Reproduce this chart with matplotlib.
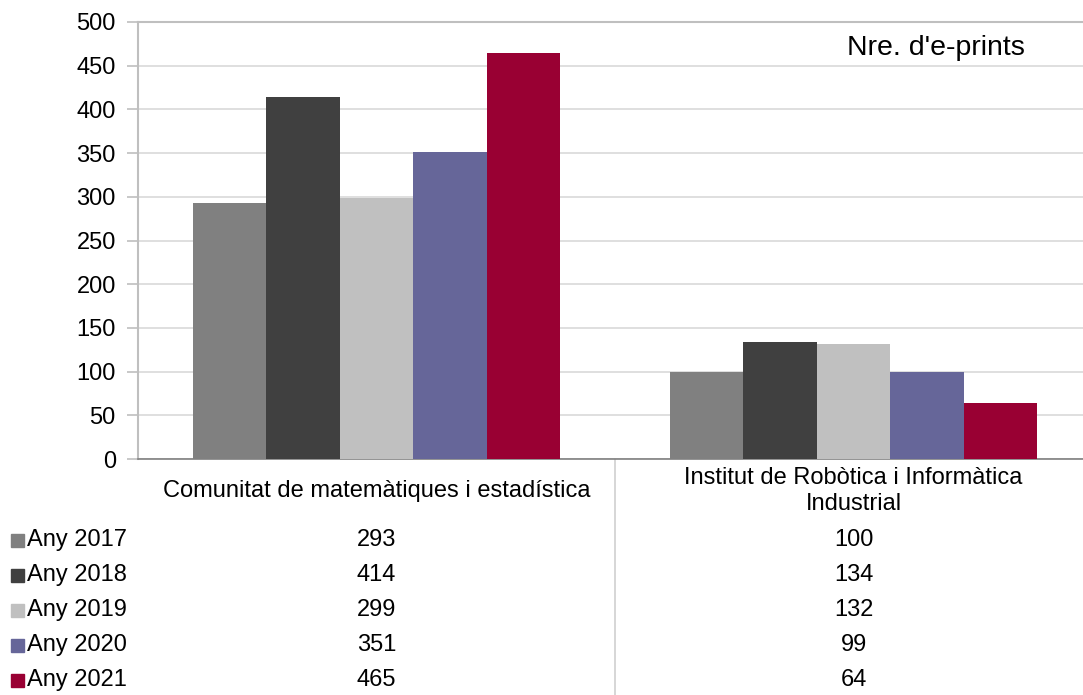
import numpy as np
import matplotlib
matplotlib.use('Agg')
import matplotlib.pyplot as plt
from matplotlib.transforms import blended_transform_factory
from matplotlib.patches import Rectangle

plt.rcParams['font.family'] = ['Liberation Sans', 'DejaVu Sans']

categories = ['Comunitat de matemàtiques i estadística',
              'Institut de Robòtica i Informàtica\nIndustrial']
years = ['Any 2017', 'Any 2018', 'Any 2019', 'Any 2020', 'Any 2021']
values_2017 = [293, 100]
values_2018 = [414, 134]
values_2019 = [299, 132]
values_2020 = [351, 99]
values_2021 = [465, 64]
series = [values_2017, values_2018, values_2019, values_2020, values_2021]
colors = ['#808080', '#404040', '#C0C0C0', '#666699', '#990033']

W, H = 1083, 695
fig = plt.figure(figsize=(W / 100, H / 100), dpi=100)

# plot area in pixels (it runs a bit past the right edge, like the original)
left, right, top, bottom = 138, 1092, 22, 459
ax = fig.add_axes([left / W, 1 - bottom / H, (right - left) / W, (bottom - top) / H])

x = np.arange(len(categories))
n = len(series)
bw = 1 / (n + 1.5)
for i, vals in enumerate(series):
    ax.bar(x + (i - (n - 1) / 2) * bw, vals, width=bw, color=colors[i], zorder=3)

ax.set_xlim(-0.5, 1.5)
ax.set_ylim(0, 500)
ax.set_yticks(range(0, 501, 50))
ax.grid(axis='y', color='#D9D9D9', linewidth=1.2, zorder=0)
ax.set_xticks([])
ax.spines['right'].set_visible(False)
ax.spines['top'].set_color('#BFBFBF')
ax.spines['top'].set_linewidth(1.5)
ax.spines['left'].set_color('#BFBFBF')
ax.spines['left'].set_linewidth(1.5)
ax.spines['bottom'].set_color('#808080')
ax.spines['bottom'].set_linewidth(1.2)
ax.tick_params(axis='y', length=8, width=1.2, color='#BFBFBF', labelsize=17, pad=8)

ax.text(0.93, 0.97, "Nre. d'e-prints", transform=ax.transAxes, fontsize=20.5,
        ha='right', va='top')

# data table under the chart
tr = blended_transform_factory(ax.transData, fig.transFigure)
fy = lambda py: 1 - py / H
for j, cat in enumerate(categories):
    ax.text(j, fy(491), cat, transform=tr, ha='center', va='center',
            fontsize=17, clip_on=False, linespacing=1.2)
row_y = [540, 575, 610, 645, 680]
for i, vals in enumerate(series):
    for j, v in enumerate(vals):
        ax.text(j, fy(row_y[i]), str(v), transform=tr, ha='center', va='center',
                fontsize=17, clip_on=False)
    fig.patches.append(Rectangle((11 / W, fy(row_y[i] + 6.5)), 13 / W, 13 / H,
                                 transform=fig.transFigure, color=colors[i]))
    fig.text(27 / W, fy(row_y[i]), years[i], ha='left', va='center', fontsize=17)

ax.plot([0.5, 0.5], [fy(459), 0], transform=tr, color='#D0D0D0',
        linewidth=1.2, clip_on=False)

fig.savefig('out.png', dpi=100)
